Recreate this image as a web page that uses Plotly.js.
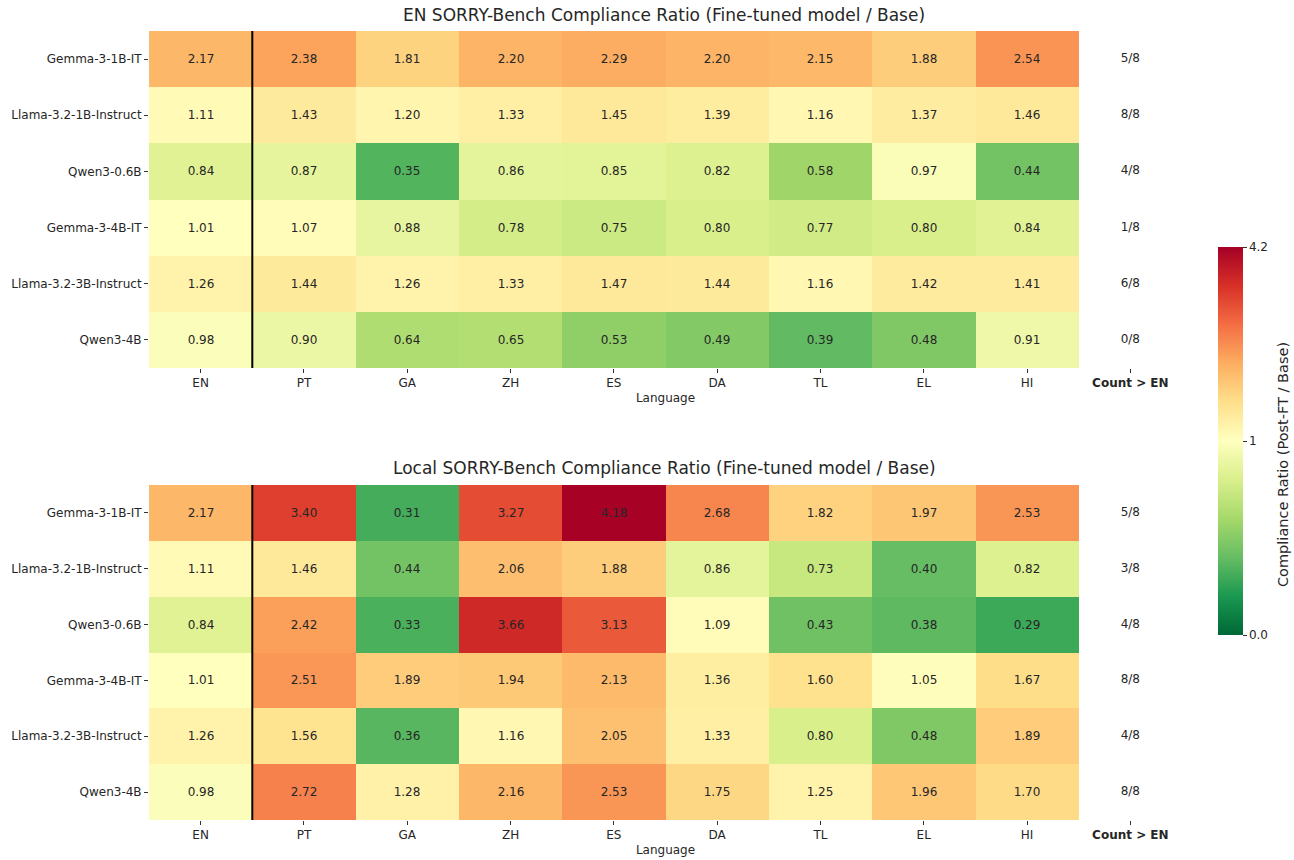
<!DOCTYPE html>
<html>
<head>
<meta charset="utf-8">
<script src="https://cdn.plot.ly/plotly-3.0.1.min.js"></script>
<style>html,body{margin:0;padding:0;background:#fff;}#chart{width:1294px;height:860px;}</style>
</head>
<body>
<div id="chart"></div>
<script>
const languages = ["EN","PT","GA","ZH","ES","DA","TL","EL","HI"];
const models = ["Gemma-3-1B-IT","Llama-3.2-1B-Instruct","Qwen3-0.6B","Gemma-3-4B-IT","Llama-3.2-3B-Instruct","Qwen3-4B"];
const countLabel = "Count > EN";

const enRatios = [
  [2.17,2.38,1.81,2.20,2.29,2.20,2.15,1.88,2.54],
  [1.11,1.43,1.20,1.33,1.45,1.39,1.16,1.37,1.46],
  [0.84,0.87,0.35,0.86,0.85,0.82,0.58,0.97,0.44],
  [1.01,1.07,0.88,0.78,0.75,0.80,0.77,0.80,0.84],
  [1.26,1.44,1.26,1.33,1.47,1.44,1.16,1.42,1.41],
  [0.98,0.90,0.64,0.65,0.53,0.49,0.39,0.48,0.91]
];
const enCounts = ["5/8","8/8","4/8","1/8","6/8","0/8"];

const localRatios = [
  [2.17,3.40,0.31,3.27,4.18,2.68,1.82,1.97,2.53],
  [1.11,1.46,0.44,2.06,1.88,0.86,0.73,0.40,0.82],
  [0.84,2.42,0.33,3.66,3.13,1.09,0.43,0.38,0.29],
  [1.01,2.51,1.89,1.94,2.13,1.36,1.60,1.05,1.67],
  [1.26,1.56,0.36,1.16,2.05,1.33,0.80,0.48,1.89],
  [0.98,2.72,1.28,2.16,2.53,1.75,1.25,1.96,1.70]
];
const localCounts = ["5/8","3/8","4/8","8/8","4/8","8/8"];

const vmin = 0, vcenter = 1, vmax = 4.2;
const colorbarTicks = [0, 1, 4.2];
const colorbarTickText = ["0.0","1","4.2"];

// Two-slope normalisation (as matplotlib TwoSlopeNorm)
function norm(v){
  if (v <= vcenter) return 0.5*(v - vmin)/(vcenter - vmin);
  return 0.5 + 0.5*(v - vcenter)/(vmax - vcenter);
}

const rdylgn_r = [
  [0.0,"#006837"],[0.1,"#1a9850"],[0.2,"#66bd63"],[0.3,"#a6d96a"],[0.4,"#d9ef8b"],
  [0.5,"#ffffbf"],[0.6,"#fee08b"],[0.7,"#fdae61"],[0.8,"#f46d43"],[0.9,"#d73027"],[1.0,"#a50026"]
];

const FONT = "DejaVu Sans, sans-serif";
const xIdx = languages.map((_, i) => i);
const yIdx = models.map((_, i) => i);

function heat(data, xa, ya){
  return {
    type: "heatmap",
    x: xIdx, y: yIdx,
    z: data.map(r => r.map(norm)),
    text: data.map(r => r.map(v => v.toFixed(2))),
    texttemplate: "%{text}",
    textfont: {family: FONT, size: 12, color: "#262626"},
    coloraxis: "coloraxis",
    xaxis: xa, yaxis: ya,
    hoverinfo: "skip"
  };
}
function counts(c, xa, ya){
  return {
    type: "scatter", mode: "text",
    x: c.map(() => languages.length), y: yIdx,
    text: c,
    textfont: {family: FONT, size: 12, color: "#262626"},
    xaxis: xa, yaxis: ya, showlegend: false, hoverinfo: "skip"
  };
}

const W = 1294, H = 860;
const xDom = [149/W, 1182/W];
const topDom = [1 - 368/H, 1 - 31/H];
const botDom = [1 - 820/H, 1 - 485/H];

const tickvalsX = xIdx.concat([languages.length]);
const ticktextX = languages.concat(["<b>" + countLabel.replace(">", "&gt;") + "</b>"]);

function xaxis(anchor){
  return {
    domain: xDom, anchor: anchor, range: [-0.5, languages.length + 0.5],
    tickvals: tickvalsX, ticktext: ticktextX,
    ticks: "outside", ticklen: 4, tickwidth: 1, tickcolor: "#333",
    tickfont: {family: FONT, size: 12, color: "#262626"},
    showgrid: false, zeroline: false, showline: false,
    title: {text: "Language", font: {family: FONT, size: 12, color: "#262626"}, standoff: 4},
    fixedrange: true
  };
}
function yaxis(dom, anchor){
  return {
    domain: dom, anchor: anchor, range: [models.length - 0.5, -0.5],
    tickvals: yIdx, ticktext: models,
    ticks: "outside", ticklen: 4, tickwidth: 1, tickcolor: "#333",
    tickfont: {family: FONT, size: 12, color: "#262626"},
    showgrid: false, zeroline: false, showline: false, fixedrange: true
  };
}

const traces = [
  heat(enRatios, "x", "y"), counts(enCounts, "x", "y"),
  heat(localRatios, "x2", "y2"), counts(localCounts, "x2", "y2")
];

const layout = {
  width: W, height: H,
  margin: {l: 0, r: 0, t: 0, b: 0},
  paper_bgcolor: "#fff", plot_bgcolor: "rgba(0,0,0,0)",
  font: {family: FONT, color: "#262626"},
  showlegend: false,
  xaxis: xaxis("y"), yaxis: yaxis(topDom, "x"),
  xaxis2: xaxis("y2"), yaxis2: yaxis(botDom, "x2"),
  coloraxis: {
    colorscale: rdylgn_r, cmin: 0, cmax: 1,
    colorbar: {
      x: 1218/W, xanchor: "left", xref: "paper",
      y: 1 - 441/H, yanchor: "middle", yref: "paper",
      thickness: 25, thicknessmode: "pixels",
      len: 388, lenmode: "pixels",
      xpad: 0, ypad: 0,
      outlinewidth: 0,
      tickvals: colorbarTicks.map(norm), ticktext: colorbarTickText,
      ticks: "outside", ticklen: 4, tickcolor: "#333",
      tickfont: {family: FONT, size: 12, color: "#262626"}
    }
  },
  shapes: [
    {type: "line", xref: "x", yref: "y domain", x0: 0.5, x1: 0.5, y0: 0, y1: 1, line: {color: "#000", width: 2}},
    {type: "line", xref: "x2", yref: "y2 domain", x0: 0.5, x1: 0.5, y0: 0, y1: 1, line: {color: "#000", width: 2}}
  ],
  annotations: [
    {text: "EN SORRY-Bench Compliance Ratio (Fine-tuned model / Base)", xref: "paper", yref: "paper",
     x: 664/W, y: 1 - 15/H, xanchor: "center", yanchor: "middle", showarrow: false,
     font: {family: FONT, size: 17, color: "#262626"}},
    {text: "Local SORRY-Bench Compliance Ratio (Fine-tuned model / Base)", xref: "paper", yref: "paper",
     x: 664/W, y: 1 - 468/H, xanchor: "center", yanchor: "middle", showarrow: false,
     font: {family: FONT, size: 17, color: "#262626"}},
    {text: "Compliance Ratio (Post-FT / Base)", xref: "paper", yref: "paper",
     x: 1283/W, y: 1 - 465/H, xanchor: "center", yanchor: "middle", showarrow: false, textangle: -90,
     font: {family: FONT, size: 14.5, color: "#262626"}}
  ]
};

Plotly.newPlot("chart", traces, layout, {displayModeBar: false, staticPlot: true});
</script>
</body>
</html>
